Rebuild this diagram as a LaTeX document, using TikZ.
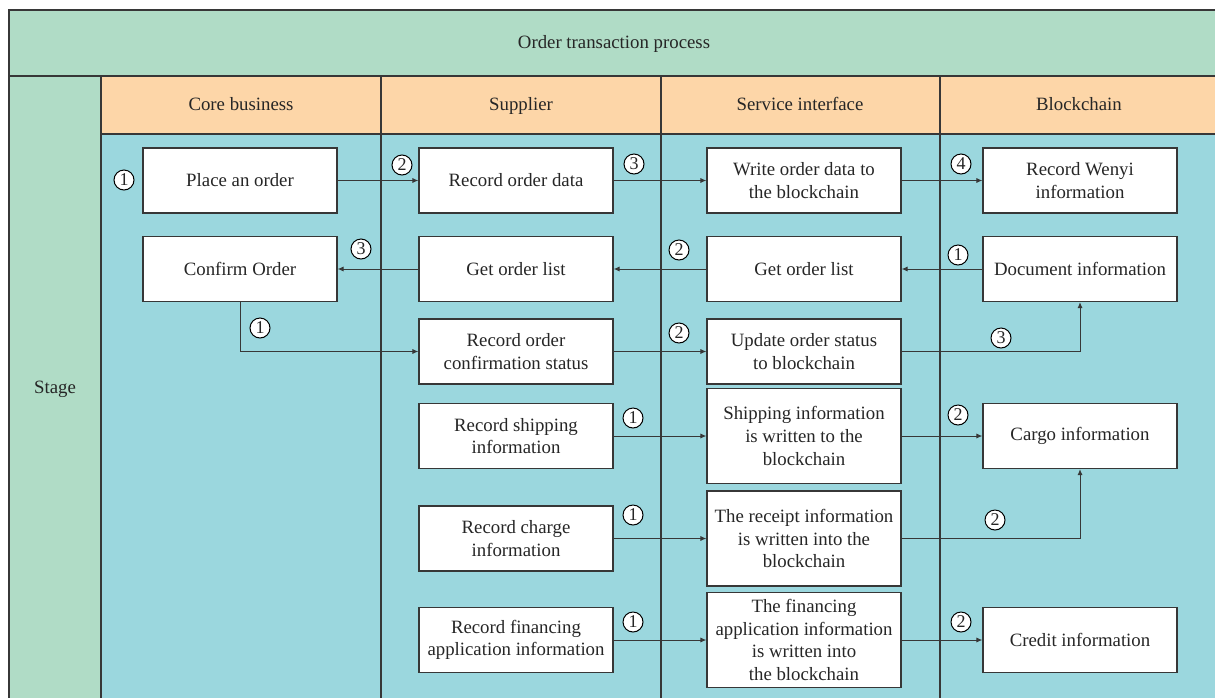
\documentclass[tikz,border=0pt]{standalone}
\usepackage{fontspec}
\setmainfont{Liberation Serif}
\usetikzlibrary{arrows.meta}
\definecolor{stagegreen}{RGB}{176,220,198}
\definecolor{headorange}{RGB}{253,214,168}
\definecolor{bodyblue}{RGB}{155,215,222}
\definecolor{linegray}{RGB}{55,55,55}
\begin{document}
\begin{tikzpicture}[x=0.5pt,y=-0.5pt,
  every node/.style={font=\fontsize{9.4}{11.3}\selectfont,text=black!85},
  frame/.style={draw=linegray,line width=0.65pt},
  head/.style={text height=1.6ex,text depth=0.4ex},
  box/.style={draw=linegray,fill=white,line width=0.65pt,minimum width=97pt,
    minimum height=32.5pt,align=center,inner sep=1pt},
  tallbox/.style={box,minimum height=47.5pt},
  num/.style={circle,draw=black,fill=white,line width=0.5pt,inner sep=0pt,
    minimum size=10pt,font=\fontsize{9}{9}\selectfont},
  link/.style={draw=linegray,line width=0.5pt,-{Latex[length=3pt,width=2.6pt]}}]
\useasboundingbox (0,0) rectangle (1215,697);
\clip (0,0) rectangle (1215,697);
\fill[stagegreen] (9,10) rectangle (1219,700);
\fill[headorange] (101,76) rectangle (1219,134);
\fill[bodyblue] (101,134) rectangle (1219,700);
\draw[frame] (9,10) rectangle (1219,700);
\draw[frame] (9,76) -- (1219,76);
\draw[frame] (101,76) -- (101,700);
\draw[frame] (101,134) -- (1219,134);
\foreach \x in {381,661,940}
  \draw[frame] (\x,76) -- (\x,700);
\node[head] (title) at (614,43) {Order transaction process};
\node[head] (stage) at (55,388) {Stage};
\node[head] (hcore) at (241,105) {Core business};
\node[head] (hsup) at (521,105) {Supplier};
\node[head] (hsvc) at (800,105) {Service interface};
\node[head] (hbc) at (1079,105) {Blockchain};
\node[box] (order) at (240,180.5) {Place an order};
\node[box] (recdata) at (516,180.5) {Record order data};
\node[box] (writedata) at (804,180.5) {Write order data to\\the blockchain};
\node[box] (wenyi) at (1080,180.5) {Record Wenyi\\information};
\node[box] (confirm) at (240,269) {Confirm Order};
\node[box] (getsup) at (516,269) {Get order list};
\node[box] (getsvc) at (804,269) {Get order list};
\node[box] (docinfo) at (1080,269) {Document information};
\node[box] (recconf) at (516,351.5) {Record order\\confirmation status};
\node[box] (updstatus) at (804,351.5) {Update order status\\to blockchain};
\node[box] (recship) at (516,436) {Record shipping\\information};
\node[tallbox] (shipinfo) at (804,436) {Shipping information\\is written to the\\blockchain};
\node[box] (cargo) at (1080,436) {Cargo information};
\node[box] (reccharge) at (516,538.5) {Record charge\\information};
\node[tallbox] (receipt) at (804,538.5) {The receipt information\\is written into the\\blockchain};
\node[box] (recfin) at (516,640) {Record financing\\application information};
\node[tallbox] (fininfo) at (804,640) {The financing\\application information\\is written into\\the blockchain};
\node[box] (credit) at (1080,640) {Credit information};
\draw[link] (order) -- (recdata);
\draw[link] (recdata) -- (writedata);
\draw[link] (writedata) -- (wenyi);
\draw[link] (docinfo) -- (getsvc);
\draw[link] (getsvc) -- (getsup);
\draw[link] (getsup) -- (confirm);
\draw[link] (confirm.south) |- (recconf.west);
\draw[link] (recconf) -- (updstatus);
\draw[link] (updstatus.east) -| (docinfo.south);
\draw[link] (recship) -- (shipinfo);
\draw[link] (shipinfo) -- (cargo);
\draw[link] (reccharge) -- (receipt);
\draw[link] (receipt.east) -| (cargo.south);
\draw[link] (recfin) -- (fininfo);
\draw[link] (fininfo) -- (credit);
\node[num] (n1) at (124,180) {1};
\node[num] (n2) at (402,165) {2};
\node[num] (n3) at (634,164) {3};
\node[num] (n4) at (961,164) {4};
\node[num] (n5) at (958,255) {1};
\node[num] (n6) at (679,250) {2};
\node[num] (n7) at (361,249) {3};
\node[num] (n8) at (260,328) {1};
\node[num] (n9) at (679,333) {2};
\node[num] (n10) at (1001,338) {3};
\node[num] (n11) at (633,418) {1};
\node[num] (n12) at (958,415) {2};
\node[num] (n13) at (633,515) {1};
\node[num] (n14) at (995,520) {2};
\node[num] (n15) at (633,622) {1};
\node[num] (n16) at (961,622) {2};
\end{tikzpicture}
\end{document}
